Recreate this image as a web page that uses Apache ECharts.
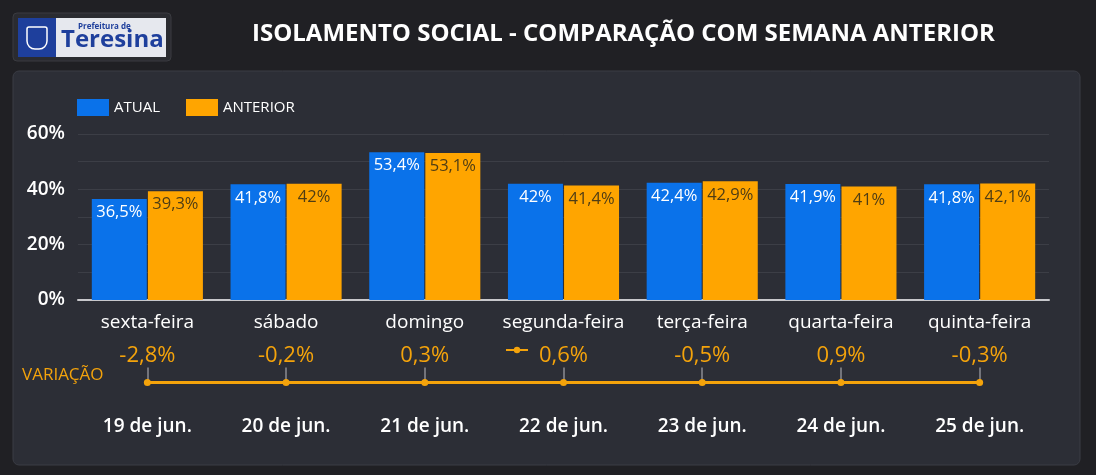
<!DOCTYPE html>
<html><head><meta charset="utf-8">
<script src="https://cdn.jsdelivr.net/npm/echarts@6/dist/echarts.min.js"></script>
<style>html,body{margin:0;padding:0;background:#202024;}#c{width:1096px;height:475px;}</style>
</head><body><div id="c"></div>
<script>
const categories = ['sexta-feira','sábado','domingo','segunda-feira','terça-feira','quarta-feira','quinta-feira'];
const dates = ['19 de jun.','20 de jun.','21 de jun.','22 de jun.','23 de jun.','24 de jun.','25 de jun.'];
const atual = [36.5, 41.8, 53.4, 42.0, 42.4, 41.9, 41.8];
const anterior = [39.3, 42.0, 53.1, 41.4, 42.9, 41.0, 42.1];
const variacao = [-2.8, -0.2, 0.3, 0.6, -0.5, 0.9, -0.3];

const fmt = v => String(v).replace('.', ',') + '%';
const FONT = '"Open Sans","Noto Sans",sans-serif';
const ORANGE = '#FFA500';
const LINE_OR = '#F4A30B';
const BLUE = '#0A72EA';

const chart = echarts.init(document.getElementById('c'), null, {renderer:'canvas'});
chart.setOption({
  backgroundColor: '#202024',
  textStyle: {fontFamily: FONT},
  graphic: [
    {type:'rect', shape:{x:13,y:71,width:1067,height:394,r:6}, style:{fill:'#2C2E36', stroke:'#3A3C44', lineWidth:1}, z:-10},
    {type:'rect', shape:{x:13,y:13,width:158,height:48,r:4}, style:{fill:'#2A2B30', stroke:'#3A3B40', lineWidth:1}},
    {type:'rect', shape:{x:18,y:18,width:148,height:39}, style:{fill:'#E6E8EE'}},
    {type:'rect', shape:{x:18,y:18,width:38,height:39}, style:{fill:'#1E3F9C'}},
    {type:'rect', shape:{x:27,y:27,width:20,height:22,r:[2,2,8,8]}, style:{fill:'none', stroke:'#FFFFFF', lineWidth:1.5}},
    {type:'text', left:78, top:23, style:{text:'Prefeitura de', fill:'#1E3F9C', font:'bold 8px '+FONT}},
    {type:'text', left:61, top:28, style:{text:'Teresina', fill:'#1E3F9C', font:'bold 24px '+FONT}},
    {type:'text', left:252, top:22, style:{text:'ISOLAMENTO SOCIAL - COMPARAÇÃO COM SEMANA ANTERIOR', fill:'#FFFFFF', font:'bold 24px '+FONT}},
    {type:'text', left:22, top:367, style:{text:'VARIAÇÃO', fill:LINE_OR, font:'17px '+FONT}}
  ],
  legend: [
    {left:72, top:94, itemWidth:32, itemHeight:17, itemGap:26, icon:'rect',
     data:['ATUAL','ANTERIOR'], textStyle:{color:'#FFFFFF', fontSize:15, fontFamily:FONT}},
    {left:500, top:341, itemWidth:22, itemHeight:8, data:['VARIAÇÃO'], formatter:() => '',
     textStyle:{color:'#FFFFFF'}}
  ],
  grid: [
    {left:78, right:47, top:134, height:166},
    {left:78, right:47, top:382, height:1}
  ],
  xAxis: [
    {gridIndex:0, type:'category', data:categories,
     axisLine:{lineStyle:{color:'#C8C8CC', width:2}}, axisTick:{show:false},
     axisLabel:{color:'#FFFFFF', fontSize:19, margin:13, interval:0, fontFamily:FONT}},
    {gridIndex:1, type:'category', data:dates, position:'top',
     axisLine:{show:false}, axisLabel:{show:false},
     axisTick:{show:true, alignWithLabel:true, length:15, lineStyle:{color:'#8A8C92', width:1.5}}},
    {gridIndex:1, type:'category', data:dates, position:'bottom',
     axisLine:{show:false}, axisTick:{show:false},
     axisLabel:{color:'#FFFFFF', fontSize:19, fontWeight:600, margin:34, interval:0, fontFamily:FONT}}
  ],
  yAxis: [
    {gridIndex:0, type:'value', min:0, max:60, interval:20,
     axisLabel:{color:'#FFFFFF', fontSize:19, fontWeight:600, margin:13, formatter: v => v + '%', fontFamily:FONT},
     axisLine:{show:false}, axisTick:{show:false},
     splitLine:{lineStyle:{color:'#3C3E46', width:1}},
     minorTick:{show:false, splitNumber:2},
     minorSplitLine:{show:true, lineStyle:{color:'#3C3E46', width:1}}},
    {gridIndex:1, type:'value', min:-1000, max:1000, show:false}
  ],
  series: [
    {name:'ATUAL', type:'bar', xAxisIndex:0, yAxisIndex:0, data:atual, barWidth:55, barGap:'2%',
     itemStyle:{color:BLUE},
     label:{show:true, position:'insideTop', distance:5, color:'#FFFFFF', fontSize:16.5, fontFamily:FONT, formatter:p => fmt(p.value)}},
    {name:'ANTERIOR', type:'bar', xAxisIndex:0, yAxisIndex:0, data:anterior, barWidth:55,
     itemStyle:{color:ORANGE},
     label:{show:true, position:'insideTop', distance:5, color:'#4F3D14', fontSize:16.5, fontFamily:FONT, formatter:p => fmt(p.value)}},
    {name:'VARIAÇÃO', type:'line', xAxisIndex:1, yAxisIndex:1, data:variacao,
     symbol:'circle', symbolSize:7, lineStyle:{color:LINE_OR, width:3}, itemStyle:{color:LINE_OR},
     label:{show:true, position:'top', distance:12, color:LINE_OR, fontSize:22, fontFamily:FONT, formatter:p => fmt(p.value)}}
  ],
  animation:false
});
</script></body></html>
